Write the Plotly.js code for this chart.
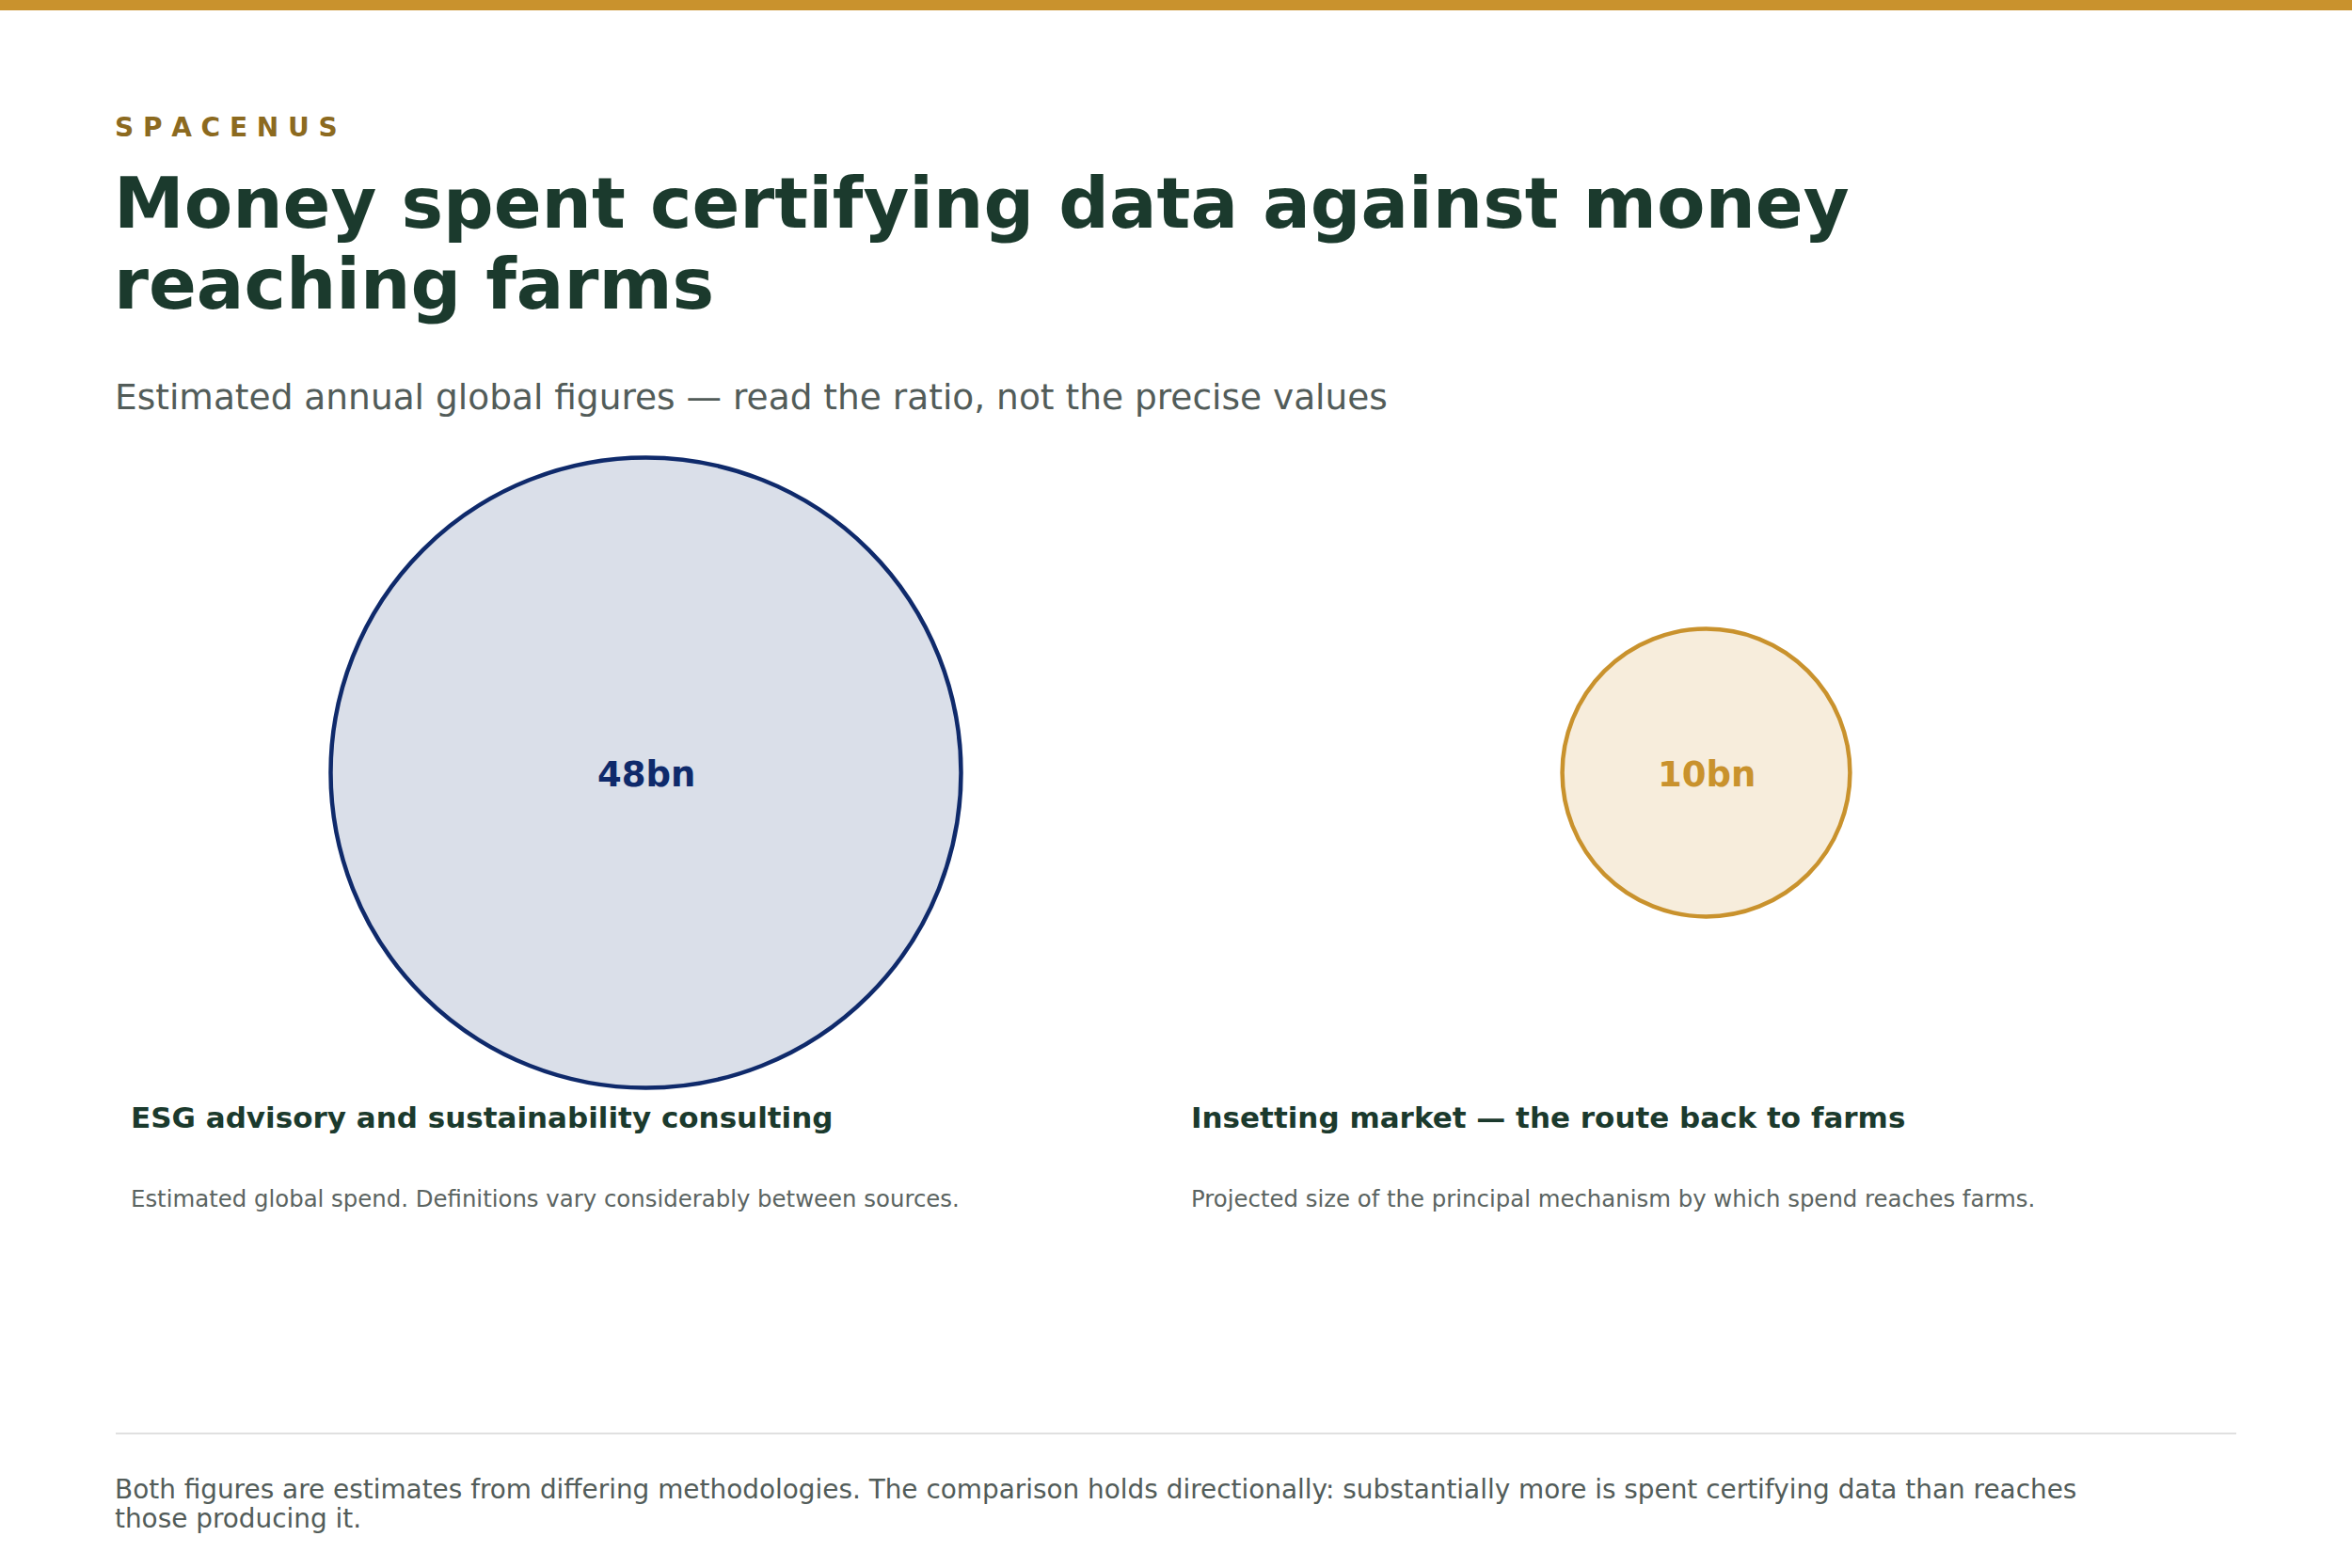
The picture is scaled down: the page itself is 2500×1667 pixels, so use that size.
<!DOCTYPE html>
<html>
<head>
<meta charset="utf-8">
<script src="https://cdn.plot.ly/plotly-3.0.1.min.js"></script>
<style>
  html, body { margin: 0; padding: 0; background: #ffffff; }
  #chart { width: 2500px; height: 1667px; }
</style>
</head>
<body>
<div id="chart"></div>
<script>
// ---- Data ----
const categories = [
  'ESG advisory and sustainability consulting',
  'Insetting market \u2014 the route back to farms'
];
const valuesBn = [48, 10];
const valueLabels = ['48bn', '10bn'];
const descriptions = [
  'Estimated global spend. Definitions vary considerably between sources.',
  'Projected size of the principal mechanism by which spend reaches farms.'
];
const footnoteLines = [
  'Both figures are estimates from differing methodologies. The comparison holds directionally: substantially more is spent certifying data than reaches',
  'those producing it.'
];

// ---- Style ----
const W = 2500, H = 1667;
const FONT = 'DejaVu Sans';
const fillColors = ['#DADFE9', '#F7EDDC'];
const lineColors = ['#0F2A6B', '#C9922D'];
const labelColors = ['#0F2A6B', '#C9922D'];
const TITLE_COLOR = '#1B3A2D';
const GRAY = '#525C59';
const maxRadiusPx = 335;
const sizeref = Math.max(...valuesBn) / (2 * maxRadiusPx * maxRadiusPx);

const px = v => v / W;
const py = v => 1 - v / H;

const xIdx = categories.map((_, i) => i);

const trace = {
  type: 'scatter',
  mode: 'markers',
  x: xIdx,
  y: xIdx.map(() => 0),
  marker: {
    size: valuesBn,
    sizemode: 'area',
    sizeref: sizeref,
    color: fillColors,
    opacity: 1,
    line: { color: lineColors, width: 4.5 }
  },
  cliponaxis: false,
  hoverinfo: 'skip',
  showlegend: false
};

const colLeft = 123, colRight = 2377;
const colW = (colRight - colLeft) / categories.length;
const TX = 120; // text left edge after plotly padding

const annotations = [
  { text: 'S P A C E N U S', x: px(TX), y: py(136), size: 28, color: '#8C6A1F', weight: 'bold' },
  { text: 'Money spent certifying data against money', x: px(TX - 1), y: py(216), size: 75, color: TITLE_COLOR, weight: 'bold' },
  { text: 'reaching farms', x: px(TX - 1), y: py(302), size: 75, color: TITLE_COLOR, weight: 'bold' },
  { text: 'Estimated annual global figures \u2014 read the ratio, not the precise values', x: px(TX), y: py(422), size: 37.5, color: GRAY, weight: 'normal' },
  { text: footnoteLines[0], x: px(TX), y: py(1583), size: 27.9, color: GRAY, weight: 'normal' },
  { text: footnoteLines[1], x: px(TX), y: py(1614), size: 27.9, color: GRAY, weight: 'normal' }
].map(a => ({
  text: a.text, xref: 'paper', yref: 'paper', x: a.x, y: a.y,
  xanchor: 'left', yanchor: 'middle', align: 'left', showarrow: false,
  font: { family: FONT, size: a.size, color: a.color, weight: a.weight }
}));

categories.forEach((c, i) => {
  const left = colLeft + i * colW + 13.5;
  annotations.push({
    text: c, xref: 'paper', yref: 'paper', x: px(left), y: py(1188),
    xanchor: 'left', yanchor: 'middle', align: 'left', showarrow: false,
    font: { family: FONT, size: 31, color: TITLE_COLOR, weight: 'bold' }
  });
  annotations.push({
    text: descriptions[i], xref: 'paper', yref: 'paper', x: px(left), y: py(1274),
    xanchor: 'left', yanchor: 'middle', align: 'left', showarrow: false,
    font: { family: FONT, size: 24.4, color: '#5B6461', weight: 'normal' }
  });
  // value label centred on the bubble (data coordinates)
  annotations.push({
    text: valueLabels[i], xref: 'x', yref: 'y', x: xIdx[i], y: 0,
    xanchor: 'center', yanchor: 'middle', showarrow: false, yshift: -1.5,
    font: { family: FONT, size: 37, color: labelColors[i], weight: 'bold' }
  });
});

const layout = {
  width: W,
  height: H,
  paper_bgcolor: '#ffffff',
  plot_bgcolor: '#ffffff',
  margin: { l: 0, r: 0, t: 0, b: 0 },
  showlegend: false,
  xaxis: {
    domain: [px(colLeft), px(colRight)],
    range: [-0.5, categories.length - 0.5],
    visible: false, fixedrange: true
  },
  yaxis: {
    domain: [py(821.5) - 0.25, py(821.5) + 0.25],
    range: [-1, 1],
    visible: false, fixedrange: true
  },
  shapes: [
    { type: 'rect', xref: 'paper', yref: 'paper', x0: 0, x1: 1, y0: py(11), y1: 1, fillcolor: '#C9922D', line: { width: 0 } },
    { type: 'line', xref: 'paper', yref: 'paper', x0: px(123), x1: px(2377), y0: py(1524), y1: py(1524), line: { color: '#E0E0E0', width: 2 } }
  ],
  annotations: annotations
};

Plotly.newPlot('chart', [trace], layout, { displayModeBar: false, staticPlot: true });
</script>
</body>
</html>
